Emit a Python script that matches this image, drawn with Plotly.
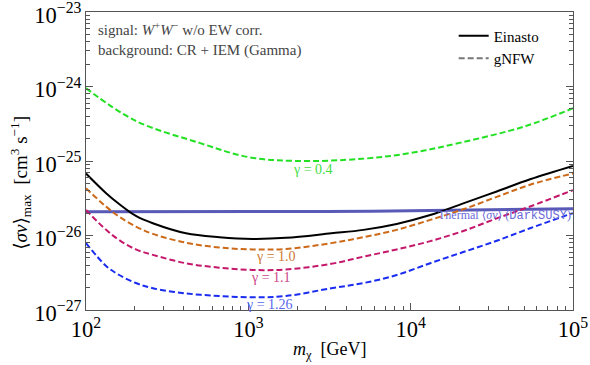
import plotly.graph_objects as go
import math

# masses (GeV) at which the four lower curves were read
mass = [100, 133, 160, 203, 258, 413, 663, 1063, 1706, 3240, 5120, 8200, 13200, 21100, 33900, 54400, 100000]

einasto = [6.8e-26, 3.7e-26, 2.65e-26, 1.83e-26, 1.46e-26, 1.07e-26, 9.5e-27, 9.0e-27, 9.3e-27, 1.07e-26,
           1.19e-26, 1.43e-26, 1.88e-26, 2.7e-26, 3.9e-26, 5.7e-26, 8.6e-26]
gnfw_10 = [4.3e-26, 2.44e-26, 1.79e-26, 1.32e-26, 1.05e-26, 8.0e-27, 6.9e-27, 6.5e-27, 6.6e-27, 7.9e-27,
           9.5e-27, 1.19e-26, 1.62e-26, 2.25e-26, 3.3e-26, 4.8e-26, 6.8e-26]
gnfw_11 = [2.2e-26, 1.19e-26, 8.7e-27, 6.5e-27, 5.5e-27, 4.24e-27, 3.7e-27, 3.45e-27, 3.5e-27, 4.17e-27,
           5.2e-27, 6.5e-27, 8.4e-27, 1.15e-26, 1.7e-26, 2.45e-26, 4.07e-26]
gnfw_126 = [7.9e-27, 3.9e-27, 2.95e-27, 2.3e-27, 1.96e-27, 1.67e-27, 1.54e-27, 1.48e-27, 1.54e-27, 1.96e-27,
            2.3e-27, 2.95e-27, 4.25e-27, 6.0e-27, 8.5e-27, 1.25e-26, 2.0e-26]

mass_g = [100, 200, 500, 1000, 2000, 5000, 10000, 20000, 50000, 100000]
gnfw_04 = [9.5e-25, 3.5e-25, 1.75e-25, 1.13e-25, 1.0e-25, 1.07e-25, 1.28e-25, 1.75e-25, 2.9e-25, 5.1e-25]

mass_th = [100, 3000, 10000, 100000]
thermal = [2.09e-26, 2.1e-26, 2.15e-26, 2.29e-26]

gamma_labels = ["γ = 0.4", "γ = 1.0", "γ = 1.1", "γ = 1.26"]
gamma_label_mass = [2506, 1483, 1380, 1343]
gamma_label_val = [7.8e-26, 5.19e-27, 2.75e-27, 1.17e-27]

FONT = "Liberation Serif, DejaVu Serif, serif"
fig = go.Figure()

dash = "6px,3px"
series = [
    (mass_g, gnfw_04, "#22e022"),
    (mass, gnfw_10, "#cc6a1a"),
    (mass, gnfw_11, "#c4186c"),
    (mass, gnfw_126, "#1a2cf0"),
]
fig.add_trace(go.Scatter(x=mass_th, y=thermal, mode="lines", line=dict(color="rgba(60,60,170,0.85)", width=3, shape="spline"), showlegend=False))
for mx, vals, col in series:
    fig.add_trace(go.Scatter(x=mx, y=vals, mode="lines", line=dict(color=col, width=2, dash=dash, shape="spline"), showlegend=False))
fig.add_trace(go.Scatter(x=mass, y=einasto, mode="lines", line=dict(color="black", width=2, shape="spline"), showlegend=False))

fig.add_trace(go.Scatter(x=[None], y=[None], mode="lines", line=dict(color="black", width=2), name="Einasto"))
fig.add_trace(go.Scatter(x=[None], y=[None], mode="lines", line=dict(color="#777777", width=2, dash=dash), name="gNFW"))

cols = ["#44dd44", "#cc7a33", "#cc4488", "#5566ee"]
for t, m, v, c in zip(gamma_labels, gamma_label_mass, gamma_label_val, cols):
    fig.add_annotation(x=math.log10(m), y=math.log10(v), xref="x", yref="y", text=t, showarrow=False,
                       font=dict(family=FONT, size=14, color=c), xanchor="center", yanchor="middle")

fig.add_annotation(x=math.log10(mass_th[-1]), y=math.log10(1.88e-26), xref="x", yref="y",
                   text="Thermal ⟨<i>σv</i>⟩ (<span style='font-family:Liberation Mono'>DarkSUSY</span>)",
                   showarrow=False, font=dict(family=FONT, size=12, color="#6a6ad8"), xanchor="right", yanchor="middle")

fig.add_annotation(x=0.02, y=0.98, xref="paper", yref="paper", xanchor="left", yanchor="top", align="left",
                   text="signal: <i>W</i><sup>+</sup><i>W</i><sup>−</sup> w/o EW corr.<br>background: CR + IEM (Gamma)",
                   showarrow=False, font=dict(family=FONT, size=15, color="#444444"))

fig.add_annotation(x=-0.136, y=0.426, xref="paper", yref="paper", textangle=-90, showarrow=False,
                   text="⟨<i>σv</i>⟩<sub>max</sub>  [cm<sup>3</sup> s<sup>−1</sup>]",
                   font=dict(family=FONT, size=19, color="black"), xanchor="center", yanchor="middle")

fig.add_annotation(x=0.5, y=-0.136, xref="paper", yref="paper", showarrow=False,
                   text="<i>m</i><sub>χ</sub>  [GeV]",
                   font=dict(family=FONT, size=18, color="black"), xanchor="center", yanchor="middle")

fig.update_layout(
    width=590, height=365,
    margin=dict(l=86, r=17, t=12, b=55),
    paper_bgcolor="white", plot_bgcolor="white",
    font=dict(family=FONT, size=17, color="black"),
    legend=dict(x=0.755, y=0.975, xanchor="left", yanchor="top", bgcolor="rgba(0,0,0,0)",
                font=dict(family=FONT, size=15), tracegroupgap=2),
)
fig.update_xaxes(type="log", range=[2, 5], showline=True, linecolor="#555555", linewidth=1, mirror=True,
                 ticks="inside", ticklen=7, tickcolor="#555555", exponentformat="power", dtick=1,
                 showgrid=False, zeroline=False, ticklabeloverflow="allow", automargin=False,
                 minor=dict(ticks="inside", ticklen=4, tickcolor="#555555", showgrid=False),
                 tickfont=dict(size=18))
fig.update_yaxes(type="log", range=[-27, -23], showline=True, linecolor="#555555", linewidth=1, mirror="ticks",
                 ticks="inside", ticklen=7, tickcolor="#555555", exponentformat="power", dtick=1,
                 showgrid=False, zeroline=False, ticklabeloverflow="allow", automargin=False,
                 ticklabelshift=3,
                 minor=dict(ticks="inside", ticklen=4, tickcolor="#555555", showgrid=False),
                 tickfont=dict(size=18))

fig.write_html("out.html", config={"displayModeBar": False},
               post_script="document.body.style.margin='0px';document.body.style.overflow='hidden';")
